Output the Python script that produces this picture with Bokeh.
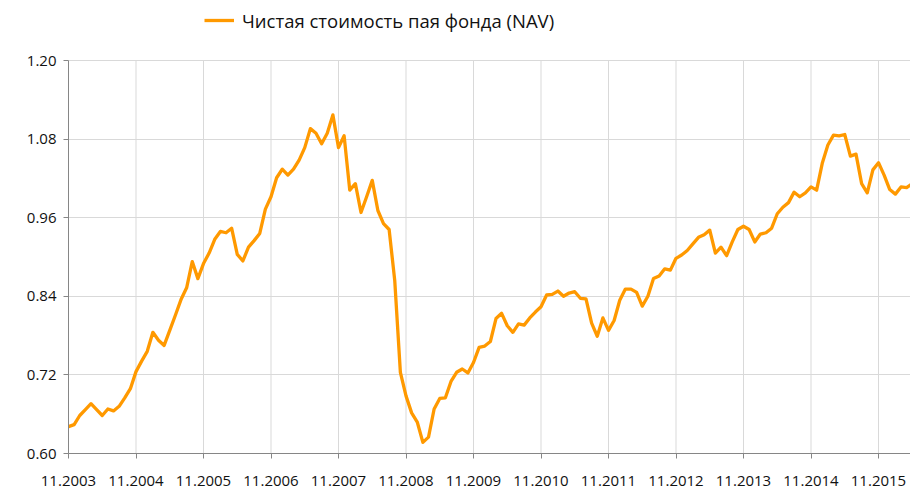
from bokeh.plotting import figure
from bokeh.models import Range1d, Legend, LegendItem, FixedTicker, ColumnDataSource
from bokeh.embed import file_html
from bokeh.resources import INLINE

series_name = "Чистая стоимость пая фонда (NAV)"

# monthly NAV values starting 11.2003
nav = [
    0.641, 0.644, 0.658, 0.667, 0.676, 0.667, 0.658, 0.668, 0.665, 0.672,
    0.685, 0.699, 0.725, 0.741, 0.756, 0.785, 0.773, 0.765, 0.788, 0.811,
    0.835, 0.853, 0.893, 0.867, 0.890, 0.906, 0.927, 0.939, 0.937, 0.944,
    0.904, 0.894, 0.915, 0.925, 0.936, 0.973, 0.992, 1.021, 1.034, 1.025,
    1.034, 1.048, 1.067, 1.096, 1.089, 1.073, 1.089, 1.117, 1.067, 1.085,
    1.002, 1.012, 0.968, 0.992, 1.017, 0.971, 0.951, 0.942, 0.864, 0.724,
    0.688, 0.662, 0.648, 0.617, 0.625, 0.668, 0.684, 0.685, 0.710, 0.724,
    0.729, 0.723, 0.739, 0.762, 0.764, 0.771, 0.806, 0.814, 0.795, 0.785,
    0.798, 0.796, 0.807, 0.816, 0.824, 0.842, 0.843, 0.848, 0.840, 0.845,
    0.847, 0.837, 0.836, 0.799, 0.779, 0.807, 0.788, 0.803, 0.834, 0.851,
    0.851, 0.846, 0.825, 0.840, 0.867, 0.871, 0.882, 0.880, 0.898, 0.903,
    0.910, 0.920, 0.930, 0.934, 0.941, 0.906, 0.915, 0.902, 0.923, 0.942,
    0.947, 0.942, 0.923, 0.935, 0.937, 0.944, 0.966, 0.976, 0.983, 0.999,
    0.992, 0.998, 1.007, 1.002, 1.043, 1.071, 1.086, 1.085, 1.087, 1.054,
    1.057, 1.012, 0.998, 1.033, 1.044, 1.025, 1.003, 0.996, 1.007, 1.006,
    1.012,
]
month_index = list(range(len(nav)))

x_tick_labels = ["11.2003", "11.2004", "11.2005", "11.2006", "11.2007",
                 "11.2008", "11.2009", "11.2010", "11.2011", "11.2012",
                 "11.2013", "11.2014", "11.2015"]
x_tick_pos = [12 * i for i in range(len(x_tick_labels))]
y_ticks = [0.60, 0.72, 0.84, 0.96, 1.08, 1.20]
y_min, y_max = y_ticks[0], y_ticks[-1]

FONT = "Open Sans"
TXT = "#111111"
GRID = "#d9d9d9"
AXIS = "#868686"

W, H = 910, 488
LEFT, BOTTOM = 68, 35
frame_h = H - BOTTOM
# extend the y range above 1.20 so the frame reaches the top (room for legend)
y_top = y_min + (y_max - y_min) * frame_h / 393.0
x_end = (W - LEFT) / 5.625

p = figure(width=W, height=H, output_backend="svg", toolbar_location=None,
           x_range=Range1d(0, x_end), y_range=Range1d(y_min, y_top),
           min_border_left=LEFT, min_border_right=0, min_border_top=0,
           min_border_bottom=BOTTOM)
p.outline_line_color = None
p.background_fill_color = "white"
p.border_fill_color = "white"

# vertical grid lines limited to the 0.60..1.20 band
p.segment(x0=x_tick_pos, y0=[y_min] * len(x_tick_pos),
          x1=x_tick_pos, y1=[y_max] * len(x_tick_pos),
          line_color=GRID, line_width=1)

src = ColumnDataSource(dict(m=month_index, nav=nav))
r = p.line("m", "nav", source=src, line_color="#FF9900", line_width=3.3,
           line_join="round")

# axes
p.xaxis.ticker = FixedTicker(ticks=x_tick_pos)
p.xaxis.major_label_overrides = {pos: lab for pos, lab in zip(x_tick_pos, x_tick_labels)}
p.yaxis.ticker = FixedTicker(ticks=y_ticks)
p.yaxis.major_label_overrides = {v: f"{v:.2f}" for v in y_ticks}
p.yaxis.bounds = (y_min, y_max)
for ax in (p.xaxis[0], p.yaxis[0]):
    ax.axis_line_color = AXIS
    ax.axis_line_width = 1
    ax.major_tick_line_color = AXIS
    ax.major_tick_in = 0
    ax.major_tick_out = 5
    ax.minor_tick_line_color = None
    ax.major_label_text_font = FONT
    ax.major_label_text_font_size = "15px"
    ax.major_label_text_color = TXT
p.xaxis.major_label_standoff = 17
p.yaxis.major_label_standoff = 7

p.xgrid.visible = False
p.ygrid.ticker = FixedTicker(ticks=y_ticks)
p.ygrid.grid_line_color = GRID

legend = Legend(items=[LegendItem(label=series_name, renderers=[r])],
                location=(136, frame_h - 33), orientation="horizontal")
legend.border_line_color = None
legend.background_fill_alpha = 0
legend.padding = 0
legend.margin = 0
legend.glyph_width = 30
legend.glyph_height = 26
legend.label_height = 26
legend.label_standoff = 8
legend.label_text_font = FONT
legend.label_text_font_size = "18.5px"
legend.label_text_color = TXT
p.add_layout(legend, "center")

open("out.html", "w").write(file_html(p, INLINE))
